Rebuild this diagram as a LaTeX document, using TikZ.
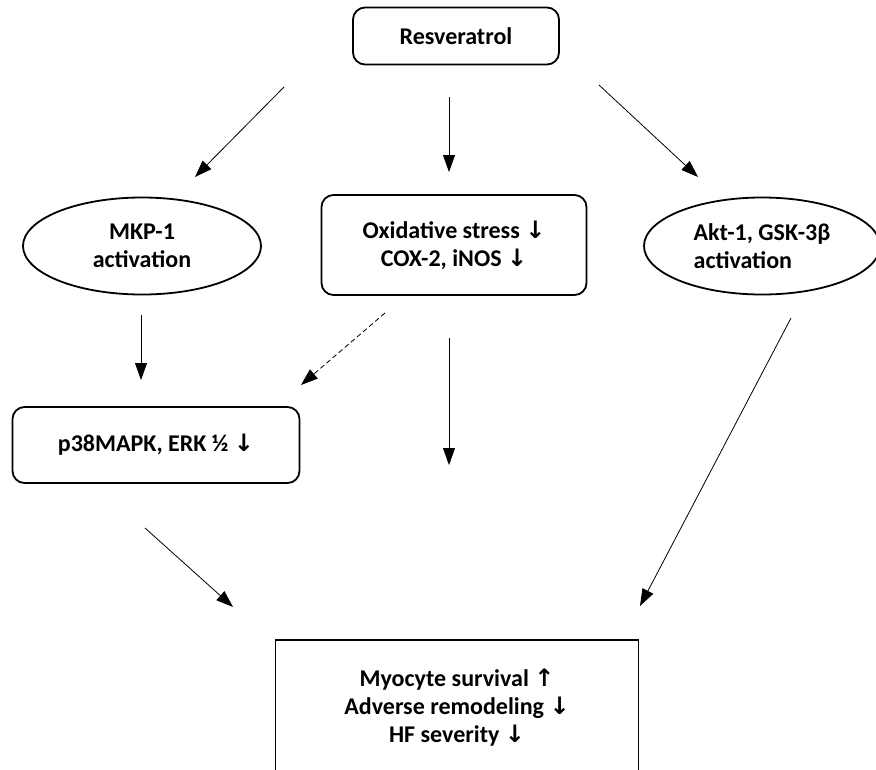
\documentclass[tikz,border=0pt]{standalone}
\usepackage{fontspec}
\setmainfont{Carlito}
\newfontfamily\arrowfont{DejaVu Sans}
\usetikzlibrary{positioning}
\usetikzlibrary{shapes.geometric}
\usetikzlibrary{arrows.meta}
\newcommand{\arrdown}{{\arrowfont\bfseries ↓}}
\newcommand{\arrup}{{\arrowfont\bfseries ↑}}

\begin{document}
\begin{tikzpicture}[
  x=1pt, y=-1pt,
  every node/.style={font=\bfseries\fontsize{24}{28}\selectfont},
  rbox/.style={
    draw, rounded corners=12pt, line width=1.8pt,
    align=center
  },
  oval/.style={draw, ellipse, line width=1.8pt, inner sep=0pt},
  arrow/.style={-{Triangle[length=17pt,width=12pt]}, line width=0.8pt}
]
\useasboundingbox (0,0) rectangle (876,769);
\clip (0,0) rectangle (876,769);

% Nodes
\node[rbox, minimum width=206pt, minimum height=57pt] (res) at (456,36) {Resveratrol};
\node[oval, minimum width=238pt, minimum height=97pt, align=center] (mkp) at (142,246) {MKP-1\\activation};
\node[rbox, minimum width=265pt, minimum height=100pt] (oxi) at (454,245) {Oxidative stress \arrdown\\COX-2, iNOS \arrdown};
\node[oval, minimum width=236pt, minimum height=97pt, align=left] (akt) at (762,246) {Akt-1, GSK-3β\\activation};
\node[rbox, minimum width=287pt, minimum height=76pt] (p38) at (156,445) {p38MAPK, ERK ½ \arrdown};
\node[draw, line width=1.8pt, minimum width=363pt, minimum height=136pt, align=center] (out) at (457,708)
  {Myocyte survival \arrup\\Adverse remodeling \arrdown\\HF severity \arrdown};

% Arrow ends
\coordinate (r1) at (284,87);  \coordinate (m1) at (195,177);
\coordinate (r2) at (449,97);  \coordinate (o1) at (449,172);
\coordinate (r3) at (599,85);  \coordinate (a1) at (698,177);
\coordinate (m2) at (141,315); \coordinate (p1) at (141,380);
\coordinate (o2) at (385,313); \coordinate (p2) at (301,385);
\coordinate (o3) at (449,338); \coordinate (s1) at (449,465);
\coordinate (a2) at (791,318); \coordinate (s2) at (640,606);
\coordinate (p3) at (145,528); \coordinate (s3) at (233,607);

% Arrows
\draw[arrow] (r1) -- (m1);
\draw[arrow] (r2) -- (o1);
\draw[arrow] (r3) -- (a1);
\draw[arrow] (m2) -- (p1);
\draw[arrow, dash pattern=on 5pt off 3pt] (o2) -- (p2);
\draw[arrow] (o3) -- (s1);
\draw[arrow] (a2) -- (s2);
\draw[arrow] (p3) -- (s3);
\end{tikzpicture}
\end{document}
